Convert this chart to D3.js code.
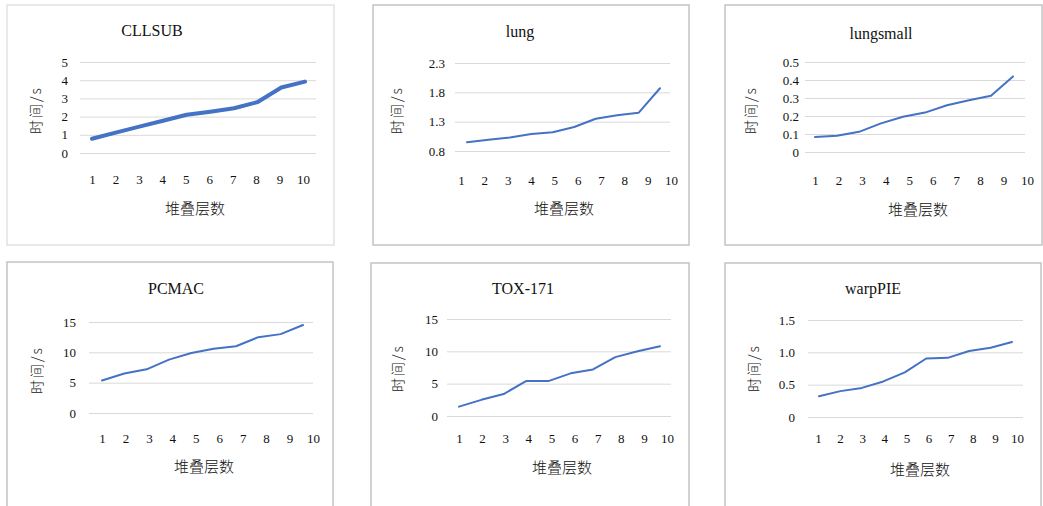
<!DOCTYPE html>
<html lang="zh">
<head>
  <meta charset="UTF-8">
  <title>堆叠层数 - 时间</title>
  <script src="https://d3js.org/d3.v7.min.js"></script>
  <style>
    body { margin: 0; background: #fff; }
    .tick text { font-family: "Liberation Serif", "DejaVu Serif", serif; font-size: 13px; fill: #111; }
    .title { font-family: "Liberation Serif", serif; font-size: 16px; fill: #111; }
    .axis-title { font-family: "Noto Sans CJK SC", sans-serif; font-weight: 300; fill: #111; }
  </style>
</head>
<body>
  <div id="chart"></div>
  <script>
    const width = 1043, height = 506;

    // data
    const layers = [1, 2, 3, 4, 5, 6, 7, 8, 9, 10];
    const titles = ["CLLSUB", "lung", "lungsmall", "PCMAC", "TOX-171", "warpPIE"];
    const cllsub    = [0.78, 1.12, 1.45, 1.77, 2.1, 2.27, 2.46, 2.8, 3.6, 3.92];
    const lung      = [0.95, 0.99, 1.03, 1.09, 1.12, 1.21, 1.35, 1.41, 1.45, 1.87];
    const lungsmall = [0.084, 0.09, 0.112, 0.159, 0.196, 0.219, 0.26, 0.288, 0.312, 0.42];
    const pcmac     = [5.35, 6.5, 7.2, 8.8, 9.9, 10.6, 11.0, 12.5, 13.0, 14.5];
    const tox171    = [1.45, 2.5, 3.4, 5.4, 5.4, 6.6, 7.2, 9.1, 10.0, 10.8];
    const warppie   = [0.32, 0.40, 0.45, 0.55, 0.69, 0.905, 0.915, 1.02, 1.07, 1.16];
    const series = [cllsub, lung, lungsmall, pcmac, tox171, warppie];

    const yDomains = [[0, 5], [0.8, 2.3], [0, 0.5], [0, 15], [0, 15], [0, 1.5]];
    const yTicks = [
      [0, 1, 2, 3, 4, 5],
      [0.8, 1.3, 1.8, 2.3],
      [0, 0.1, 0.2, 0.3, 0.4, 0.5],
      [0, 5, 10, 15],
      [0, 5, 10, 15],
      [0, 0.5, 1.0, 1.5]
    ];
    const yTickLabels = [
      ["0", "1", "2", "3", "4", "5"],
      ["0.8", "1.3", "1.8", "2.3"],
      ["0", "0.1", "0.2", "0.3", "0.4", "0.5"],
      ["0", "5", "10", "15"],
      ["0", "5", "10", "15"],
      ["0", "0.5", "1.0", "1.5"]
    ];
    const yTitle = "时间/s", xTitle = "堆叠层数";

    // panel layout (pixels)
    const layout = [
      { box: [7, 5, 334, 245], border: "#e2e2e2", title: [152, 30], grid: [80, 316], yRange: [153, 62], labelRight: 68,
        xLab: [92, 303, 179], line: [92, 305], stroke: 4, yT: [36, 110], xT: [195, 209] },
      { box: [373, 5, 689, 245], border: "#c4c4c4", title: [520, 31], grid: [455, 670], yRange: [151, 63], labelRight: 445,
        xLab: [461, 671, 180], line: [467, 660], stroke: 2, yT: [397, 110], xT: [564, 209] },
      { box: [725, 5, 1042, 245], border: "#c4c4c4", title: [881, 33], grid: [805, 1025], yRange: [152, 62], labelRight: 799,
        xLab: [815, 1027, 180], line: [815, 1013], stroke: 2, yT: [751, 110], xT: [918, 210] },
      { box: [7, 262, 333, 530], border: "#c4c4c4", title: [176, 288], grid: [89, 313], yRange: [413, 322], labelRight: 76,
        xLab: [102, 313, 438], line: [102, 303], stroke: 2, yT: [37, 370], xT: [204, 467] },
      { box: [371, 263, 689, 530], border: "#c4c4c4", title: [523, 288], grid: [447, 671], yRange: [416, 319], labelRight: 438,
        xLab: [459, 667, 438], line: [459, 660], stroke: 2, yT: [398, 368], xT: [562, 468] },
      { box: [725, 263, 1041, 530], border: "#c4c4c4", title: [873, 288], grid: [808, 1023], yRange: [417, 320], labelRight: 795,
        xLab: [818, 1017, 438], line: [819, 1012], stroke: 2, yT: [754, 368], xT: [920, 470] }
    ];

    const svg = d3.select("#chart")
      .append("svg")
      .attr("width", width)
      .attr("height", height);

    series.forEach((values, i) => {
      const L = layout[i];
      const g = svg.append("g");

      // panel frame
      g.append("rect")
        .attr("x", L.box[0]).attr("y", L.box[1])
        .attr("width", L.box[2] - L.box[0]).attr("height", L.box[3] - L.box[1])
        .attr("fill", "#fff")
        .attr("stroke", L.border)
        .attr("stroke-width", 1.5);

      const y = d3.scaleLinear().domain(yDomains[i]).range(L.yRange);
      const xLabels = d3.scaleLinear().domain([1, 10]).range([L.xLab[0], L.xLab[1]]);
      const xLine = d3.scaleLinear().domain([1, 10]).range(L.line);

      // gridlines + y tick labels
      const yAxis = d3.axisLeft(y)
        .tickValues(yTicks[i])
        .tickFormat((d, k) => yTickLabels[i][k])
        .tickSize(-(L.grid[1] - L.grid[0]))
        .tickPadding(L.grid[0] - L.labelRight);
      g.append("g")
        .attr("transform", `translate(${L.grid[0]},0)`)
        .call(yAxis)
        .call(a => a.select(".domain").remove())
        .call(a => a.selectAll(".tick line").attr("stroke", "#d9d9d9").attr("stroke-width", 1));

      // x tick labels
      const xAxis = d3.axisBottom(xLabels)
        .tickValues(layers)
        .tickFormat(d3.format("d"))
        .tickSize(0)
        .tickPadding(0);
      g.append("g")
        .attr("transform", `translate(0,${L.xLab[2]})`)
        .call(xAxis)
        .call(a => a.select(".domain").remove())
        .call(a => a.selectAll(".tick text").attr("y", 0).attr("dy", "0.35em"));

      // data line
      const line = d3.line()
        .x((d, k) => xLine(layers[k]))
        .y(d => y(d));
      g.append("path")
        .datum(values)
        .attr("fill", "none")
        .attr("stroke", "#4472c4")
        .attr("stroke-width", L.stroke)
        .attr("stroke-linejoin", "round")
        .attr("stroke-linecap", "round")
        .attr("d", line);

      // titles
      g.append("text")
        .attr("class", "title")
        .attr("x", L.title[0]).attr("y", L.title[1])
        .attr("text-anchor", "middle")
        .attr("dy", "0.35em")
        .text(titles[i]);

      g.append("text")
        .attr("class", "axis-title")
        .attr("transform", `translate(${L.yT[0]},${L.yT[1]}) rotate(-90)`)
        .attr("text-anchor", "middle")
        .attr("dy", "0.35em")
        .attr("font-size", "14px")
        .attr("letter-spacing", "2px")
        .text(yTitle);

      g.append("text")
        .attr("class", "axis-title")
        .attr("x", L.xT[0]).attr("y", L.xT[1])
        .attr("text-anchor", "middle")
        .attr("dy", "0.35em")
        .attr("font-size", "15px")
        .text(xTitle);
    });
  </script>
</body>
</html>
